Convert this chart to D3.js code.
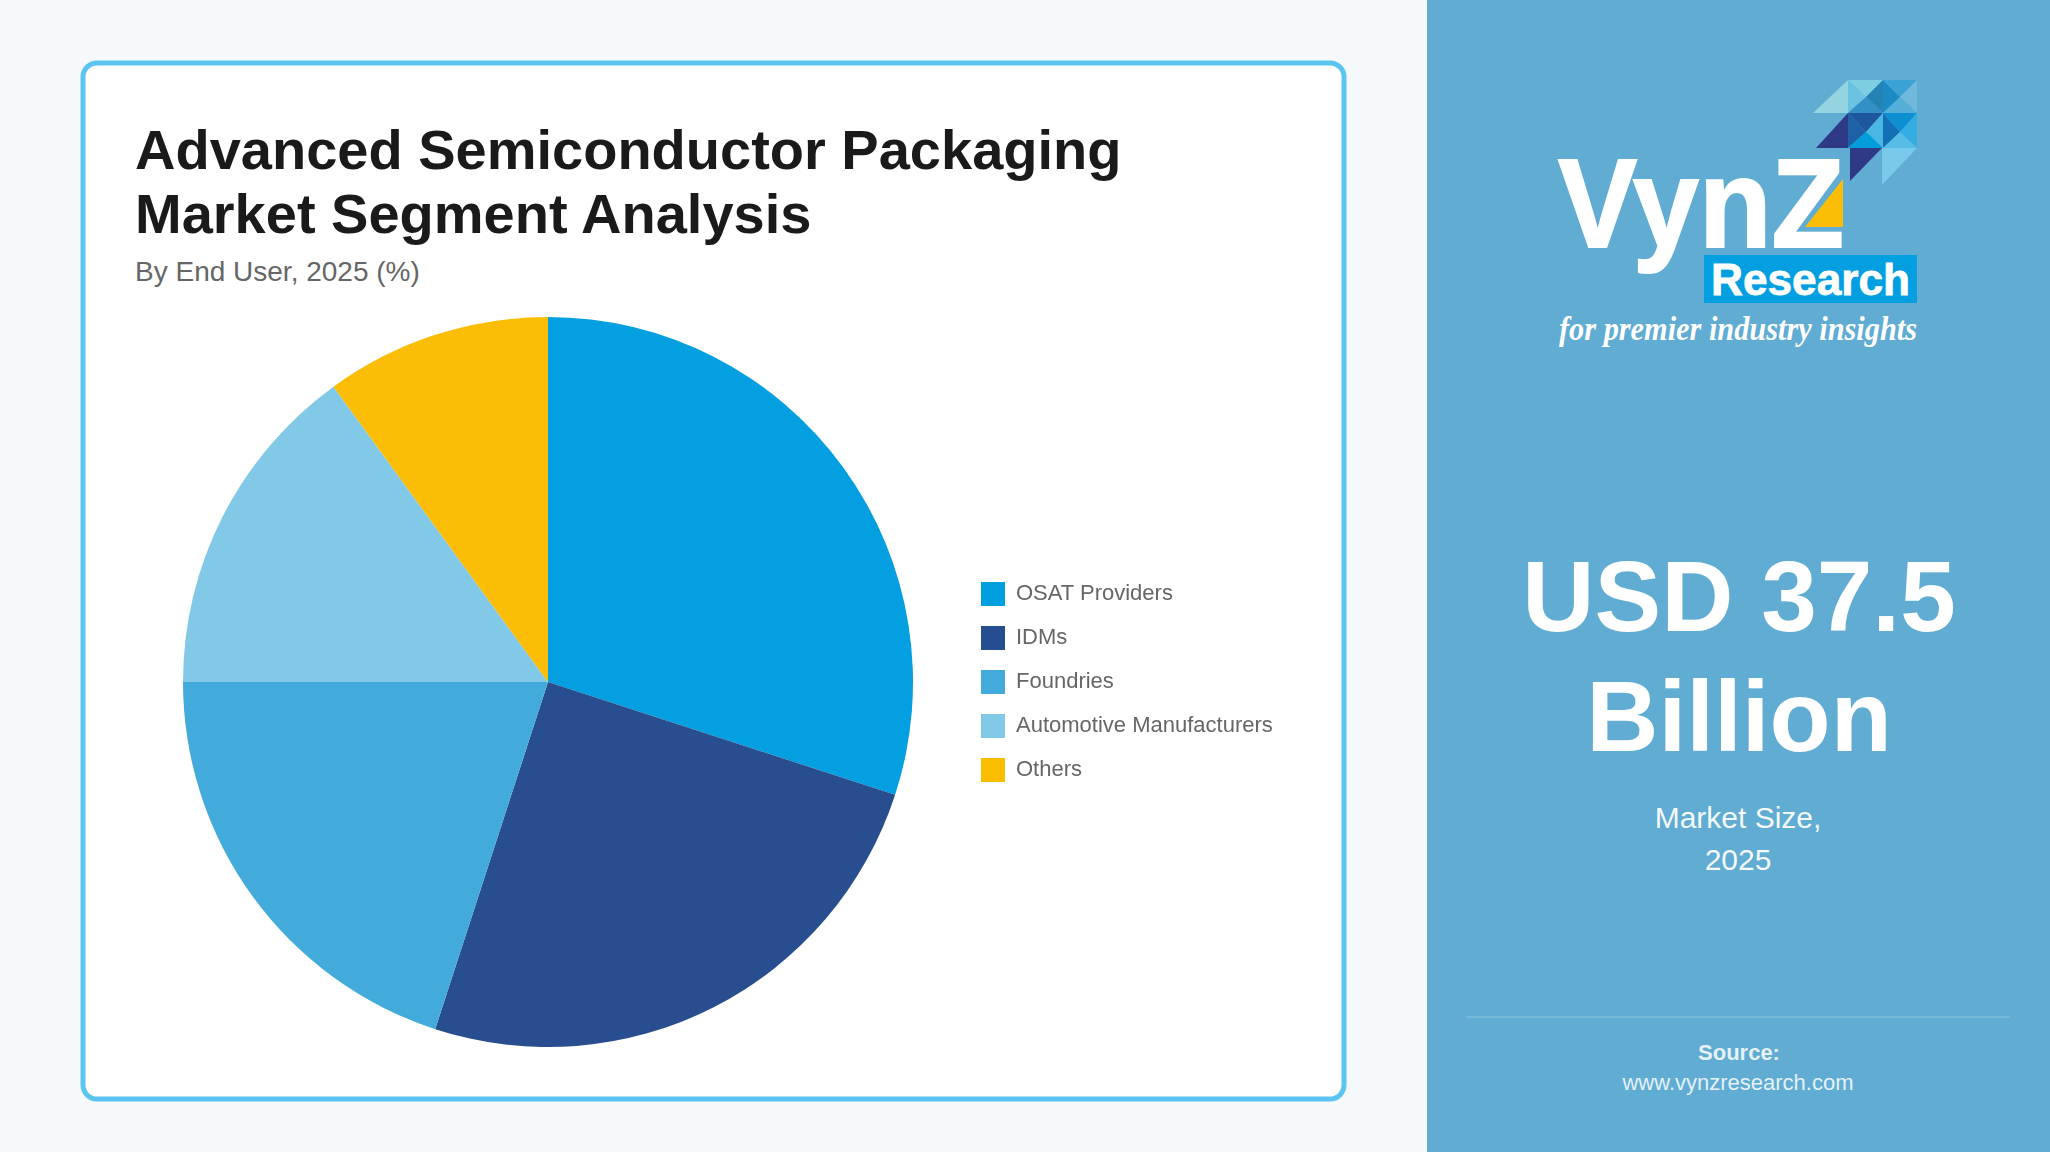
<!DOCTYPE html>
<html>
<head>
<meta charset="utf-8">
<script src="https://cdn.jsdelivr.net/npm/d3@7"></script>
<style>
  html, body { margin: 0; padding: 0; background: #f5f9fc; }
  svg { display: block; }
  text { font-family: "Liberation Sans", Arial, sans-serif; }
</style>
</head>
<body>
<svg id="chart"></svg>
<script>
const categories = ["OSAT Providers", "IDMs", "Foundries", "Automotive Manufacturers", "Others"];
const shares = [30, 25, 20, 15, 10];
const sliceColors = ["#039fe0", "#284e90", "#43abdb", "#81c9e6", "#fbbd05"];

const titleLines = ["Advanced Semiconductor Packaging", "Market Segment Analysis"];
const subtitle = "By End User, 2025 (%)";
const sizeLines = ["USD 37.5", "Billion"];
const sizeCaption = ["Market Size,", "2025"];

const width = 2050;
const height = 1152;

const svg = d3.select("#chart")
  .attr("width", width)
  .attr("height", height);

svg.append("defs").append("filter")
  .attr("id", "soft")
  .append("feGaussianBlur")
  .attr("stdDeviation", 0.55);

// card
svg.append("rect")
  .attr("x", 83).attr("y", 63)
  .attr("width", 1261).attr("height", 1036)
  .attr("rx", 14)
  .attr("fill", "#fff")
  .attr("stroke", "#5bc5f2")
  .attr("stroke-width", 5);

// right panel
svg.append("rect")
  .attr("x", 1427).attr("y", 0)
  .attr("width", width - 1427).attr("height", height)
  .attr("fill", "#60acd3");

// title
svg.append("g")
  .selectAll("text")
  .data(titleLines)
  .join("text")
  .attr("x", 135)
  .attr("y", (d, i) => 169 + i * 63.5)
  .attr("font-size", 56)
  .attr("font-weight", "bold")
  .attr("fill", "#1a1a1a")
  .text(d => d);

svg.append("text")
  .attr("x", 135).attr("y", 281)
  .attr("font-size", 28)
  .attr("fill", "#666")
  .text(subtitle);

// pie
const pie = d3.pie().sort(null)(shares);
const arc = d3.arc().innerRadius(0).outerRadius(365);

svg.append("g")
  .attr("transform", "translate(548,682)")
  .selectAll("path")
  .data(pie)
  .join("path")
  .attr("d", arc)
  .attr("fill", (d, i) => sliceColors[i]);

// legend
const legendY = d3.scalePoint()
  .domain(categories)
  .range([594, 770]);

const legend = svg.append("g")
  .attr("filter", "url(#soft)")
  .selectAll("g")
  .data(categories)
  .join("g")
  .attr("transform", d => `translate(981,${legendY(d)})`);

legend.append("rect")
  .attr("y", -12)
  .attr("width", 24).attr("height", 24)
  .attr("fill", (d, i) => sliceColors[i]);

legend.append("text")
  .attr("x", 35)
  .attr("y", 6)
  .attr("font-size", 22)
  .attr("fill", "#666")
  .text(d => d);

// logo
const logo = svg.append("g");

const mosaic = [
  ["1813,113 1848,80 1848,113", "#94d4e0"],
  ["1848,80 1848,113 1866,97", "#6cc2e3"],
  ["1848,80 1883,80 1866,97", "#7ccfe3"],
  ["1883,80 1883,113 1866,97", "#2582b5"],
  ["1848,113 1883,113 1866,97", "#3390c6"],
  ["1883,80 1883,113 1900,97", "#1c8ac4"],
  ["1883,80 1917,80 1900,97", "#3ba3d3"],
  ["1917,80 1917,113 1900,97", "#70b8dc"],
  ["1883,113 1917,113 1900,97", "#53afd8"],
  ["1816,148 1848,113 1848,148", "#2f3a87"],
  ["1848,113 1848,148 1866,132", "#1f61a7"],
  ["1848,113 1883,113 1866,132", "#1f56a0"],
  ["1883,113 1883,148 1866,132", "#4ab6e4"],
  ["1848,148 1883,148 1866,132", "#049ddc"],
  ["1883,113 1883,148 1900,132", "#1470b4"],
  ["1883,113 1917,113 1900,132", "#0e8fd1"],
  ["1917,113 1917,148 1900,132", "#33ade2"],
  ["1883,148 1917,148 1900,132", "#58bde6"],
  ["1850,148 1882,148 1850,181", "#2f3a87"],
  ["1882,148 1917,148 1882,185", "#78c9ea"]
];

logo.append("g")
  .selectAll("polygon")
  .data(mosaic)
  .join("polygon")
  .attr("points", d => d[0])
  .attr("fill", d => d[1]);

logo.append("text")
  .attr("x", 1558).attr("y", 247)
  .attr("font-size", 126)
  .attr("font-weight", "bold")
  .attr("textLength", 286)
  .attr("lengthAdjust", "spacingAndGlyphs")
  .attr("fill", "#fff")
  .attr("stroke", "#fff")
  .attr("stroke-width", 2)
  .text("VynZ");

logo.append("polygon")
  .attr("points", "1843,179 1843,227 1805,227")
  .attr("fill", "#fbbd05");

logo.append("rect")
  .attr("x", 1704).attr("y", 255)
  .attr("width", 213).attr("height", 48)
  .attr("fill", "#039fe0");

logo.append("text")
  .attr("x", 1711).attr("y", 295)
  .attr("font-size", 44)
  .attr("font-weight", "bold")
  .attr("textLength", 199)
  .attr("lengthAdjust", "spacingAndGlyphs")
  .attr("fill", "#fff")
  .attr("stroke", "#fff")
  .attr("stroke-width", 0.8)
  .text("Research");

logo.append("text")
  .attr("x", 1559).attr("y", 340)
  .attr("style", "font-family:'Liberation Serif',serif")
  .attr("font-size", 34)
  .attr("font-style", "italic")
  .attr("font-weight", "bold")
  .attr("textLength", 358)
  .attr("lengthAdjust", "spacingAndGlyphs")
  .attr("fill", "#fff")
  .text("for premier industry insights");

// market size
svg.append("g")
  .selectAll("text")
  .data(sizeLines)
  .join("text")
  .attr("x", 1739)
  .attr("y", (d, i) => 631 + i * 120)
  .attr("text-anchor", "middle")
  .attr("font-size", 100)
  .attr("font-weight", "bold")
  .attr("fill", "#fff")
  .text(d => d);

svg.append("g")
  .selectAll("text")
  .data(sizeCaption)
  .join("text")
  .attr("x", 1738)
  .attr("y", (d, i) => 828 + i * 42)
  .attr("text-anchor", "middle")
  .attr("font-size", 30)
  .attr("fill", "#fff")
  .attr("fill-opacity", 0.95)
  .text(d => d);

// footer
svg.append("line")
  .attr("x1", 1467).attr("x2", 2010)
  .attr("y1", 1017).attr("y2", 1017)
  .attr("stroke", "#fff")
  .attr("stroke-opacity", 0.2)
  .attr("stroke-width", 1.5);

svg.append("text")
  .attr("x", 1739).attr("y", 1060)
  .attr("text-anchor", "middle")
  .attr("font-size", 22)
  .attr("font-weight", "bold")
  .attr("fill", "#fff")
  .attr("fill-opacity", 0.85)
  .text("Source:");

svg.append("text")
  .attr("x", 1738).attr("y", 1090)
  .attr("text-anchor", "middle")
  .attr("font-size", 22)
  .attr("fill", "#fff")
  .attr("fill-opacity", 0.85)
  .text("www.vynzresearch.com");
</script>
</body>
</html>
